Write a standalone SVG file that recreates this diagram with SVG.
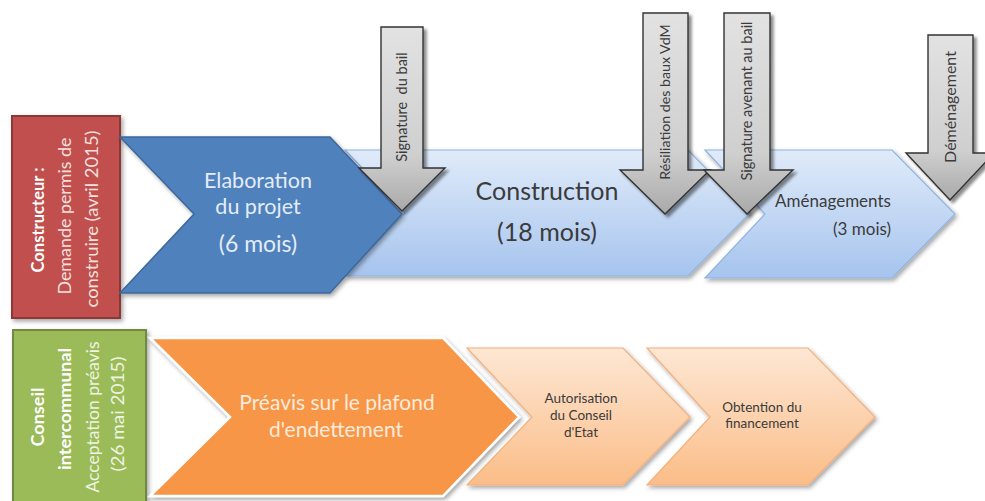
<svg xmlns="http://www.w3.org/2000/svg" width="985" height="501" viewBox="0 0 985 501">
<defs>
  <linearGradient id="gBlue" x1="0" y1="0" x2="0" y2="1">
    <stop offset="0" stop-color="#e0ebf9"/>
    <stop offset="1" stop-color="#a6c4ee"/>
  </linearGradient>
  <linearGradient id="gGray" x1="0" y1="0" x2="0" y2="1">
    <stop offset="0" stop-color="#e2e2e2"/>
    <stop offset="0.7" stop-color="#cfcfcf"/>
    <stop offset="1" stop-color="#a9a9a9"/>
  </linearGradient>
  <linearGradient id="gOrange" x1="0" y1="0" x2="0" y2="1">
    <stop offset="0" stop-color="#fde7d4"/>
    <stop offset="1" stop-color="#fbbd88"/>
  </linearGradient>
  <filter id="sh" x="-10%" y="-10%" width="130%" height="130%">
    <feDropShadow dx="2" dy="2.5" stdDeviation="2" flood-color="#000" flood-opacity="0.35"/>
  </filter>
  <filter id="shA" x="-20%" y="-10%" width="150%" height="130%">
    <feDropShadow dx="3" dy="3" stdDeviation="1.5" flood-color="#000" flood-opacity="0.45"/>
  </filter>
</defs>
<style>
  text { font-family: Lato, "Liberation Sans", sans-serif; }
  .red { fill: #c0504d; stroke: #8c3836; stroke-width: 2; }
  .green { fill: #9bbb59; stroke: #71893f; stroke-width: 2; }
  .dark { fill: #4f81bd; stroke: #3d6899; stroke-width: 1.5; }
  .light { fill: url(#gBlue); stroke: #8fb3df; stroke-width: 1.2; }
  .orange { fill: #f79646; stroke: #ffffff; stroke-width: 2.5; }
  .lorange { fill: url(#gOrange); stroke: #f3b07c; stroke-width: 1.2; }
  .arrow { fill: url(#gGray); stroke: #333333; stroke-width: 1.4; }
  .wt { fill: #ffffff; }
  .rt { fill: #f5e0df; }
  .gt { fill: #eef4e2; }
  .lt { fill: #e4ecf7; }
  .lo { fill: #fdeadb; }
  .dt { fill: #3b3b3b; }
</style>

<g id="constructeur">
  <rect class="red" x="12" y="116" width="108" height="202" filter="url(#sh)"/>
  <text class="wt" font-size="16.5" font-weight="bold" text-anchor="middle" textLength="105" lengthAdjust="spacingAndGlyphs" transform="translate(44,220) rotate(-90)">Constructeur :</text>
  <text class="rt" font-size="17" text-anchor="middle" textLength="157" lengthAdjust="spacingAndGlyphs" transform="translate(71,216) rotate(-90)">Demande permis de</text>
  <text class="rt" font-size="17" text-anchor="middle" textLength="177" lengthAdjust="spacingAndGlyphs" transform="translate(98,219) rotate(-90)">construire (avril 2015)</text>
</g>

<g id="construction">
  <polygon class="light" points="345,150 688,150 750,213 688,276 345,276 405,213" filter="url(#sh)"/>
  <text class="dt" font-size="25" text-anchor="middle" x="547" y="200">Construction</text>
  <text class="dt" font-size="25" text-anchor="middle" x="547" y="241">(18 mois)</text>
</g>

<g id="amenagements">
  <polygon class="light" points="705,150 892,150 955,214 892,278 705,278 765,214" filter="url(#sh)"/>
  <text class="dt" font-size="17" text-anchor="middle" x="833" y="207">Aménagements</text>
  <text class="dt" font-size="17" text-anchor="end" x="891" y="235">(3 mois)</text>
</g>

<g id="elaboration">
  <polygon class="dark" points="120,137 330,137 402,214 330,293 120,293 194,214" filter="url(#sh)"/>
  <text class="lt" font-size="21.5" text-anchor="middle" x="258" y="188">Elaboration</text>
  <text class="lt" font-size="21.5" text-anchor="middle" x="258" y="214">du projet</text>
  <text class="lt" font-size="23" text-anchor="middle" x="258" y="252">(6 mois)</text>
</g>

<g id="conseil">
  <rect class="green" x="13" y="330" width="133" height="180" filter="url(#sh)"/>
  <text class="wt" font-size="16.5" font-weight="bold" text-anchor="middle" textLength="59" lengthAdjust="spacingAndGlyphs" transform="translate(44,417) rotate(-90)">Conseil</text>
  <text class="wt" font-size="16.5" font-weight="bold" text-anchor="middle" textLength="122" lengthAdjust="spacingAndGlyphs" transform="translate(71,409) rotate(-90)">intercommunal</text>
  <text class="gt" font-size="16.5" text-anchor="middle" textLength="151" lengthAdjust="spacingAndGlyphs" transform="translate(99,417) rotate(-90)">Acceptation préavis</text>
  <text class="gt" font-size="16.5" text-anchor="middle" textLength="115" lengthAdjust="spacingAndGlyphs" transform="translate(124,414) rotate(-90)">(26 mai 2015)</text>
</g>

<g id="preavis">
  <polygon class="orange" points="150,338 443,338 519,417 443,496 150,496 230,417" filter="url(#sh)"/>
  <text class="lo" font-size="21" text-anchor="middle" x="337" y="410">Préavis sur le plafond</text>
  <text class="lo" font-size="21" text-anchor="middle" x="336" y="437">d'endettement</text>
</g>

<g id="autorisation">
  <polygon class="lorange" points="467,348 623,348 690,417 623,485 467,485 532,417" filter="url(#sh)"/>
  <text class="dt" font-size="13.5" text-anchor="middle" x="581" y="403">Autorisation</text>
  <text class="dt" font-size="13.5" text-anchor="middle" x="581" y="420">du Conseil</text>
  <text class="dt" font-size="13.5" text-anchor="middle" x="581" y="437">d'Etat</text>
</g>

<g id="obtention">
  <polygon class="lorange" points="647,348 808,348 875,417 808,485 647,485 710,417" filter="url(#sh)"/>
  <text class="dt" font-size="13.5" text-anchor="middle" x="762" y="412">Obtention du</text>
  <text class="dt" font-size="13.5" text-anchor="middle" x="762" y="428">financement</text>
</g>

<g id="connectors">
  <g id="signature-bail">
    <polygon class="arrow" points="381,27 423,27 423,168 445,168 402,211 359,168 381,168" filter="url(#shA)"/>
    <text class="dt" font-size="14.5" text-anchor="middle" transform="translate(407,107) rotate(-90)" xml:space="preserve">Signature  du bail</text>
  </g>
  <g id="resiliation">
    <polygon class="arrow" points="643,13 688,13 688,170 710,170 665,214 620,170 643,170" filter="url(#shA)"/>
    <text class="dt" font-size="14.2" text-anchor="middle" transform="translate(670,102) rotate(-90)">Résiliation des baux VdM</text>
  </g>
  <g id="signature-avenant">
    <polygon class="arrow" points="724,13 770,13 770,170 793,170 747,214 704,170 724,170" filter="url(#shA)"/>
    <text class="dt" font-size="14.5" text-anchor="middle" transform="translate(752,101) rotate(-90)">Signature avenant au bail</text>
  </g>
  <g id="demenagement">
    <polygon class="arrow" points="928,35 973,35 973,153 994,153 950,200 906,153 928,153" filter="url(#shA)"/>
    <text class="dt" font-size="16" text-anchor="middle" transform="translate(956,107) rotate(-90)">Déménagement</text>
  </g>
</g>
</svg>
